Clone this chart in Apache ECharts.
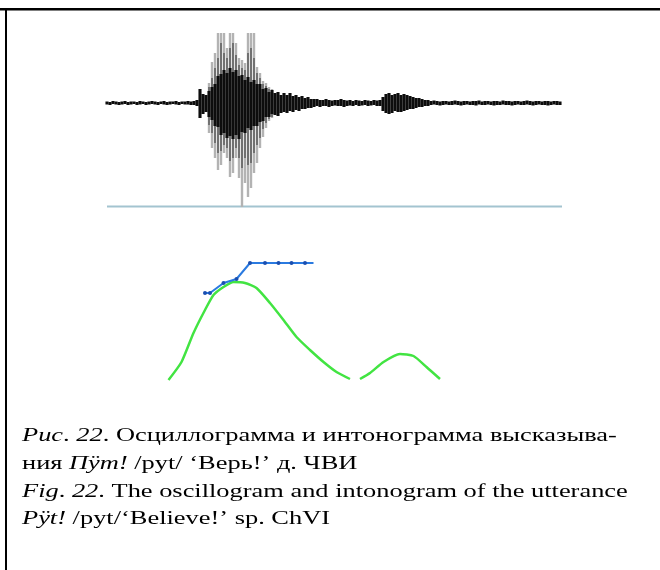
<!DOCTYPE html>
<html>
<head>
<meta charset="utf-8">
<script src="https://cdn.jsdelivr.net/npm/echarts@6/dist/echarts.min.js"></script>
<style>
html,body{margin:0;padding:0;background:#fff;}
#chart{width:660px;height:570px;}
</style>
</head>
<body>
<div id="chart"></div>
<script>
// ---- Oscillogram envelope (time step 6 ms per sample, amplitudes in arbitrary units) ----
const oscStepMs = 6;
const oscInnerHi = [
  1.5,1,2,1.5,1,1.5,2,1,1.5,1.5,1,2,1.5,1,1.5,2,1.5,1,1.5,2,1,1.5,1.5,2,1,1.5,1.5,2,1.5,2,
  3,14,9,8,12,16,19,27,29,33,30,35,31,33,27,28,23,26,21,23,19,19,14,15,11,13,10,11,8,10,8,10,7,8,6,7,5,6,4,4,
  4,3,3,4,3,2.5,3,3,4,3,2.5,3,2,3,2.5,2,3,2.5,2,3,2.5,3,
  6,9,10,8,9,10,8,9,8,7,6,5,5,4,3,3,
  2,2.5,2,1.5,2,2,1.5,2,2.5,2,1.5,2,2,1.5,2,2,2.5,1.5,2,2,1.5,2,2,1.5,2.5,2,2,1.5,2,2,1.5,2,2.5,2,1.5,2,2,1.5,2,2,1.5,2,2,1.5
];
const oscInnerLo = [
  1.5,2,1,1.5,2,1.5,1,2,1.5,1,2,1.5,1,2,1.5,1,1.5,2,1,1.5,2,1.5,1,1.5,2,1,1.5,1.5,2,2,
  3,15,11,9,14,17,23,24,32,30,35,33,36,32,36,29,30,25,27,23,23,19,18,14,14,11,12,13,10,9,10,8,9,7,8,6,6,5,5,4,
  3,4,3,3,4,3,2.5,3,3,4,3,2.5,3,2,3,2.5,2,3,2.5,2,3,3,
  8,10,11,10,8,9,9,8,7,6,6,5,4,4,3,3,
  2,1.5,2,2.5,2,1.5,2,2,1.5,2,2.5,2,1.5,2,2,2.5,1.5,2,2,1.5,2,2.5,2,2,1.5,2,2,2.5,2,1.5,2,2,1.5,2,2.5,2,1.5,2,2,2.5,2,1.5,2,2
];
// grey glottal spikes (start at sample 34)
const oscOuterStart = 34;
const oscOuterHi = [20,41,50,75,75,75,55,75,75,60,45,43,40,75,75,75,36,30,22,20,16,14];
const oscOuterLo = [30,45,55,67,62,50,55,74,70,55,75,104,80,94,85,70,60,45,34,25,18,15];
const oscMidHi = [16,25,35,45,60,50,45,55,60,48,38,35,33,50,55,45,30,25,19,17,14,13];
const oscMidLo = [22,30,40,50,48,42,45,58,55,45,55,65,55,62,60,50,42,35,26,20,16,14];

// ---- Intonogram (time ms, value Hz) ----
const f0A = [[123,100],[149,118],[173,147],[196,170],[213,185],[233,193],[253,198],[276,197],[299,192],[326,177],[353,160],[379,143],[406,130],[433,118],[459,108],[486,101]];
const f0B = [[506,101],[526,107],[553,118],[586,126],[613,124],[639,113],[666,101]];
const blueLine = [[196,187],[206,187],[233,197],[259,201],[286,217],[316,217],[343,217],[369,217],[396,217],[413,217]];

// ---- Caption ----
const captionLines = [
  '{i|Рис}{n|. }{i|22}{n|. Осциллограмма и интонограмма высказыва-}',
  '{n|ния }{i|Пӱт!}{n| /pyt/ ‘Верь!’ д. ЧВИ}',
  '{i|Fig}{n|. }{i|22}{n|. The oscillogram and intonogram of the utterance}',
  '{i|Pÿt!}{n| /pyt/‘Believe!’ sp. ChVI}'
];

const oscData = oscInnerHi.map((h, i) => [i * oscStepMs, h, oscInnerLo[i]]);
const oscOuterData = oscOuterHi.map((h, i) => [(i + oscOuterStart) * oscStepMs, h, oscOuterLo[i]]);
const oscMidData = oscMidHi.map((h, i) => [(i + oscOuterStart) * oscStepMs, h, oscMidLo[i]]);

function envRender(width, color) {
  return function (params, api) {
    const t = api.value(0);
    const top = api.coord([t, api.value(1)]);
    const bot = api.coord([t, -api.value(2)]);
    const cs = params.coordSys;
    const y1 = Math.max(top[1], cs.y);
    const y2 = Math.min(bot[1], cs.y + cs.height);
    return {
      type: 'rect',
      shape: { x: top[0] - width / 2, y: y1, width: width, height: Math.max(1, y2 - y1) },
      style: { fill: color }
    };
  };
}

const FONT = 'Liberation Serif';
const FS = 19;
const rich = {
  n: { fontFamily: FONT, fontSize: FS, fill: '#000' },
  i: { fontFamily: FONT, fontSize: FS, fontStyle: 'italic', fill: '#000' }
};
const baseY = [442, 470, 498, 525];

const chart = echarts.init(document.getElementById('chart'), null, { renderer: 'canvas' });
chart.setOption({
  animation: false,
  backgroundColor: '#fff',
  grid: [
    { left: 107, top: 33, width: 455, height: 174 },
    { left: 107, top: 250, width: 455, height: 130 }
  ],
  xAxis: [
    { type: 'value', gridIndex: 0, min: 0, max: 910, show: true,
      axisLine: { show: false }, axisTick: { show: false }, axisLabel: { show: false }, splitLine: { show: false } },
    { type: 'value', gridIndex: 1, min: 0, max: 910, show: false }
  ],
  yAxis: [
    { type: 'value', gridIndex: 0, min: -104, max: 70, show: false },
    { type: 'value', gridIndex: 1, min: 100, max: 230, show: false }
  ],
  series: [
    { type: 'custom', xAxisIndex: 0, yAxisIndex: 0, data: oscOuterData,
      renderItem: envRender(2.4, '#b3b3b3'), silent: true, z: 2 },
    { type: 'custom', xAxisIndex: 0, yAxisIndex: 0, data: oscMidData,
      renderItem: envRender(1.8, '#6a6a6a'), silent: true, z: 3 },
    { type: 'custom', xAxisIndex: 0, yAxisIndex: 0, data: oscData,
      renderItem: envRender(3.1, '#0d0d0d'), silent: true, z: 4 },
    { type: 'line', xAxisIndex: 0, yAxisIndex: 0, data: [[0, -103.5], [910, -103.5]],
      symbol: 'none', lineStyle: { color: '#a3c4d0', width: 2 }, silent: true, z: 1 },
    { type: 'line', xAxisIndex: 1, yAxisIndex: 1, data: f0A, smooth: 0.2, symbol: 'none',
      lineStyle: { color: '#42e442', width: 2.5 }, silent: true },
    { type: 'line', xAxisIndex: 1, yAxisIndex: 1, data: f0B, smooth: 0.2, symbol: 'none',
      lineStyle: { color: '#42e442', width: 2.5 }, silent: true },
    { type: 'line', xAxisIndex: 1, yAxisIndex: 1,
      data: blueLine.map((p, i) => i === blueLine.length - 1 ? { value: p, symbol: 'none' } : p),
      symbol: 'circle', symbolSize: 4, showSymbol: true,
      itemStyle: { color: '#1a4fb0' }, lineStyle: { color: '#2a7ae0', width: 2 }, silent: true, z: 5 }
  ],
  graphic: [
    { type: 'rect', shape: { x: 0, y: 8, width: 660, height: 2.5 }, style: { fill: '#000' } },
    { type: 'rect', shape: { x: 5, y: 9, width: 2, height: 561 }, style: { fill: '#000' } }
  ].concat(captionLines.map((t, k) => ({
    type: 'text', x: 22, y: baseY[k] - 6, scaleX: 1.39,
    style: { text: t, rich: rich, verticalAlign: 'middle', align: 'left', fontFamily: FONT, fontSize: FS }
  })))
});
</script>
</body>
</html>
